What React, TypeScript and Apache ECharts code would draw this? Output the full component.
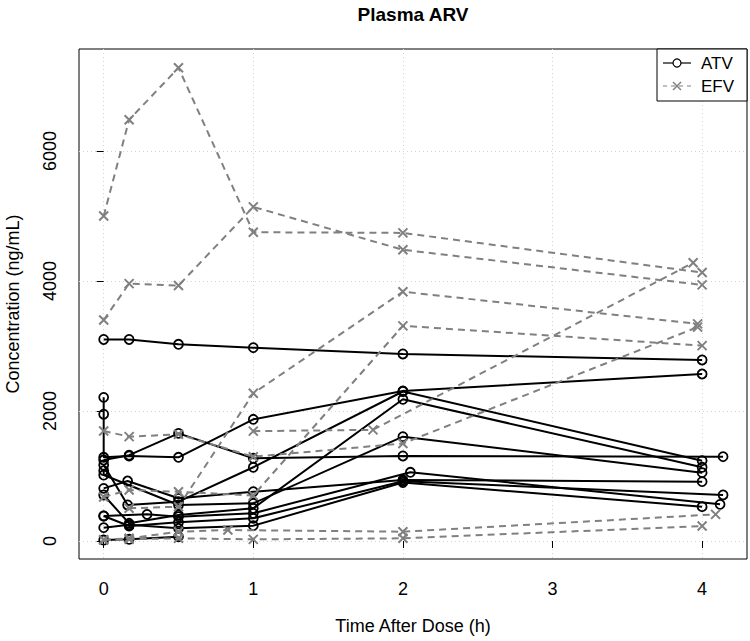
import React, { useEffect, useRef } from "react";
import * as echarts from "echarts";

// ---- Data: [time (h), concentration (ng/mL)] per subject ----
const ATV_01: [number, number][] = [[0, 3100], [0.17, 3100], [0.5, 3026], [1, 2974], [2, 2877], [4, 2785]];
const ATV_02: [number, number][] = [[0, 2210], [0, 1950], [0, 1288], [0.17, 1308], [0.5, 1288], [1, 1872], [2, 2308], [4, 2569]];
const ATV_03: [number, number][] = [[0, 1246], [0.17, 1320], [0.5, 1656], [1, 1272], [2, 1308], [4.14, 1297]];
const ATV_04: [number, number][] = [[0, 1169], [0.16, 554], [0.5, 605], [1, 1134], [2, 2300], [4, 1236]];
const ATV_05: [number, number][] = [[0, 810], [0.16, 923], [0.5, 657], [1, 758], [2, 940], [4, 913]];
const ATV_06: [number, number][] = [[0, 1082], [0, 1015], [0.5, 554], [1, 580], [2, 1605], [4, 1051]];
const ATV_07: [number, number][] = [[0, 708], [0.17, 272], [0.5, 400], [1, 503], [2, 2180], [4, 1134]];
const ATV_08: [number, number][] = [[0, 385], [0.29, 410], [0.5, 374], [1, 426], [2.05, 1057], [4.12, 564]];
const ATV_09: [number, number][] = [[0, 385], [0.17, 231], [0.5, 290], [1, 349], [2, 920], [4.14, 708]];
const ATV_10: [number, number][] = [[0, 205], [0.17, 250], [0.5, 195], [1, 236], [2, 900], [4, 528]];
const ATV_11: [number, number][] = [[0, 15], [0.17, 26], [0.5, 66]];

const EFV_01: [number, number][] = [[0, 5000], [0.17, 6480], [0.5, 7280], [1, 4750], [2, 4740], [4, 4130]];
const EFV_02: [number, number][] = [[0, 3400], [0.17, 3960], [0.5, 3930], [1, 5140], [2, 4480], [4, 3940]];
const EFV_03: [number, number][] = [[1, 1690], [1.8, 1710], [3.94, 4280]];
const EFV_04: [number, number][] = [[0.17, 503], [0.5, 528], [1, 2272], [2, 3835], [3.97, 3340]];
const EFV_05: [number, number][] = [[0, 677], [0.17, 785], [0.5, 758], [1, 700], [2, 3310], [4, 3005]];
const EFV_06: [number, number][] = [[0, 1692], [0.17, 1605], [0.5, 1641], [1, 1297], [2, 1500], [3.97, 3290]];
const EFV_07: [number, number][] = [[0, 15], [0.17, 26], [0.5, 41], [1, 25], [2, 41], [4, 230]];
const EFV_08: [number, number][] = [[0, 20], [0.17, 41], [0.5, 143], [0.83, 169], [2, 143], [4.09, 410]];

const ATV_SUBJECTS = [ATV_01, ATV_02, ATV_03, ATV_04, ATV_05, ATV_06, ATV_07, ATV_08, ATV_09, ATV_10, ATV_11];
const EFV_SUBJECTS = [EFV_01, EFV_02, EFV_03, EFV_04, EFV_05, EFV_06, EFV_07, EFV_08];

const X_TICKS = [0, 1, 2, 3, 4];
const Y_TICKS = [0, 2000, 4000, 6000];

const TITLE = "Plasma ARV";
const X_NAME = "Time After Dose (h)";
const Y_NAME = "Concentration (ng/mL)";
const LEGEND_LABELS = ["ATV", "EFV"];

const FONT = "Liberation Sans, Arial, Helvetica, sans-serif";
const GRAY = "#808080";
const X_SYMBOL = "path://M0 0L10 10M10 0L0 10";

export default function App() {
  const ref = useRef<HTMLDivElement>(null);
  useEffect(() => {
    if (!ref.current) return;
    const chart = echarts.init(ref.current, null, { renderer: "svg" });

    const atvSeries = ATV_SUBJECTS.map((d, i) => ({
      name: "ATV" + i,
      type: "line",
      data: d,
      symbol: "circle",
      symbolSize: 9,
      showSymbol: true,
      silent: true,
      z: 2,
      lineStyle: { color: "#000", width: 2 },
      itemStyle: { color: "rgba(0,0,0,0)", borderColor: "#000", borderWidth: 1.8 },
    }));
    const efvSeries = EFV_SUBJECTS.map((d, i) => ({
      name: "EFV" + i,
      type: "line",
      data: d,
      symbol: X_SYMBOL,
      symbolSize: 9,
      showSymbol: true,
      silent: true,
      z: 3,
      lineStyle: { color: GRAY, width: 2, type: [7, 5] },
      itemStyle: { color: "rgba(0,0,0,0)", borderColor: GRAY, borderWidth: 2 },
    }));

    const lx = 657, ly = 49, lw = 90, lh = 52;
    chart.setOption({
      animation: false,
      grid: {
        left: 79, top: 49, width: 668, height: 510,
        containLabel: false, outerBoundsMode: "none",
        show: true, borderColor: "#000", borderWidth: 1, backgroundColor: "transparent",
      },
      xAxis: {
        type: "value",
        min: -0.165,
        max: 4.3,
        name: X_NAME,
        nameLocation: "middle",
        nameGap: 58,
        nameTextStyle: { fontFamily: FONT, fontSize: 18, color: "#000" },
        axisLine: { show: false },
        axisTick: { show: true, inside: false, length: 7, lineStyle: { color: "#000", width: 1 }, customValues: X_TICKS },
        axisLabel: { fontFamily: FONT, fontSize: 18, color: "#000", margin: 21, customValues: X_TICKS, formatter: (v: number) => String(v) },
        splitLine: { show: true, lineStyle: { color: "#d3d3d3", type: [1, 3], width: 1 } },
      },
      yAxis: {
        type: "value",
        min: -277,
        max: 7569,
        name: Y_NAME,
        nameLocation: "middle",
        nameGap: 57,
        nameRotate: 90,
        nameTextStyle: { fontFamily: FONT, fontSize: 18, color: "#000" },
        axisLine: { show: false },
        axisTick: { show: true, inside: false, length: 7, lineStyle: { color: "#000", width: 1 }, customValues: Y_TICKS },
        axisLabel: { fontFamily: FONT, fontSize: 18, color: "#000", margin: 20, rotate: 90, customValues: Y_TICKS, formatter: (v: number) => String(v) },
        splitLine: { show: true, lineStyle: { color: "#d3d3d3", type: [1, 3], width: 1 } },
      },
      series: [...atvSeries, ...efvSeries],
      graphic: [
        { type: "text", x: 413, y: 14, style: { text: TITLE, fontFamily: FONT, fontSize: 19, fontWeight: "bold", fill: "#000", textAlign: "center", textVerticalAlign: "middle" } },
        { type: "rect", shape: { x: lx, y: ly, width: lw, height: lh }, style: { fill: "#fff", stroke: "#000", lineWidth: 1 }, z: 10 },
        { type: "line", shape: { x1: lx + 6, y1: ly + 14, x2: lx + 34, y2: ly + 14 }, style: { stroke: "#000", lineWidth: 1.2 }, z: 11 },
        { type: "circle", shape: { cx: lx + 20, cy: ly + 14, r: 4 }, style: { fill: "#fff", stroke: "#000", lineWidth: 1.2 }, z: 12 },
        { type: "text", x: lx + 44, y: ly + 14, style: { text: LEGEND_LABELS[0], fontFamily: FONT, fontSize: 17, fill: "#000", textVerticalAlign: "middle" }, z: 11 },
        { type: "line", shape: { x1: lx + 6, y1: ly + 37, x2: lx + 34, y2: ly + 37 }, style: { stroke: GRAY, lineWidth: 1.2, lineDash: [4, 4] }, z: 11 },
        { type: "line", shape: { x1: lx + 16, y1: ly + 33, x2: lx + 24, y2: ly + 41 }, style: { stroke: GRAY, lineWidth: 1.4 }, z: 12 },
        { type: "line", shape: { x1: lx + 24, y1: ly + 33, x2: lx + 16, y2: ly + 41 }, style: { stroke: GRAY, lineWidth: 1.4 }, z: 12 },
        { type: "text", x: lx + 44, y: ly + 37, style: { text: LEGEND_LABELS[1], fontFamily: FONT, fontSize: 17, fill: "#000", textVerticalAlign: "middle" }, z: 11 },
      ],
    });
    return () => chart.dispose();
  }, []);
  return <div ref={ref} style={{ position: "fixed", left: 0, top: 0, width: 750, height: 641, background: "#fff" }} />;
}
